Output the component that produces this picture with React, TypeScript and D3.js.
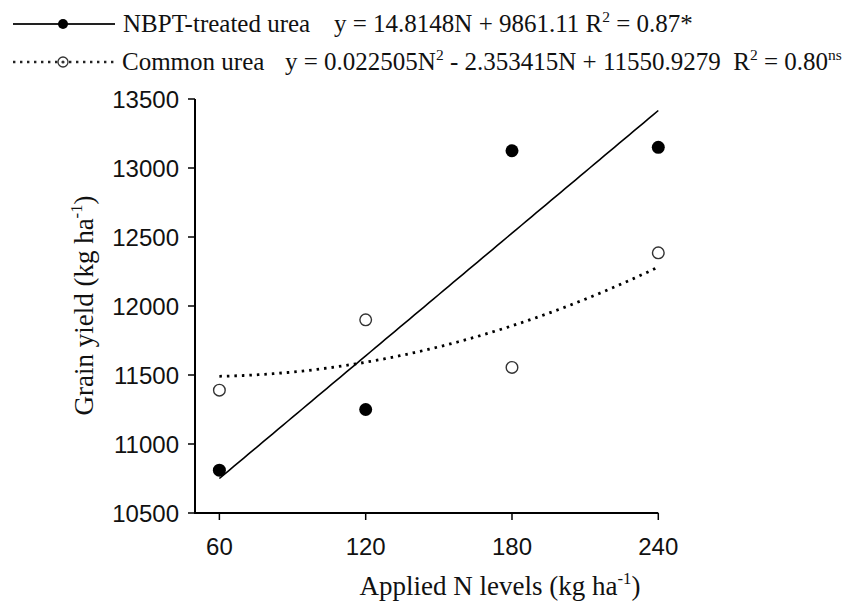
import React from "react";
import * as d3 from "d3";

const nLevels = [60, 120, 180, 240];
const nbptYield = [10810, 11250, 13125, 13150];
const commonYield = [11390, 11900, 11555, 12385];
const yTicks = [10500, 11000, 11500, 12000, 12500, 13000, 13500];
const linearCoef = [14.8148, 9861.11];
const quadCoef = [0.022505, -2.353415, 11550.9279];

const W = 851;
const H = 603;
const serif = "'Liberation Serif', 'Times New Roman', serif";
const sans = "'Liberation Sans', Arial, sans-serif";

type Part = [string, boolean];

function RichText(props: { parts: Part[]; fs: number }) {
  const { parts, fs } = props;
  const shift = fs * 0.4;
  let raised = false;
  return (
    <>
      {parts.map(([t, isSup], i) => {
        let dy = 0;
        if (isSup && !raised) {
          dy = -shift;
          raised = true;
        } else if (!isSup && raised) {
          dy = shift;
          raised = false;
        }
        return (
          <tspan key={i} dy={dy} fontSize={isSup ? fs * 0.62 : fs}>
            {t}
          </tspan>
        );
      })}
    </>
  );
}

const row1Eq: Part[] = [["y = 14.8148N + 9861.11 R", false], ["2", true], [" = 0.87*", false]];
const row2Eq: Part[] = [
  ["y = 0.022505N", false],
  ["2", true],
  [" - 2.353415N + 11550.9279  R", false],
  ["2", true],
  [" = 0.80", false],
  ["ns", true],
];
const xTitle: Part[] = [["Applied N levels (kg ha", false], ["-1", true], [")", false]];
const yTitle: Part[] = [["Grain yield (kg ha", false], ["-1", true], [")", false]];

export default function App() {
  const x = d3.scaleLinear().domain([50, 240]).range([195, 658.3]);
  const y = d3.scaleLinear().domain([10500, 13500]).range([513, 99]);

  const fitN = d3.range(60, 240.01, 2);
  const linePath = d3
    .line<number>()
    .x((n) => x(n))
    .y((n) => y(linearCoef[0] * n + linearCoef[1]))(fitN) as string;
  const quadPath = d3
    .line<number>()
    .x((n) => x(n))
    .y((n) => y(quadCoef[0] * n * n + quadCoef[1] * n + quadCoef[2]))(fitN) as string;

  return (
    <svg
      width={W}
      height={H}
      style={{ position: "absolute", left: 0, top: 0, background: "#fff" }}
    >
      <rect width={W} height={H} fill="#fff" />
      {/* Legend row 1 */}
      <line x1={13} x2={115} y1={24} y2={24} stroke="#222" strokeWidth={2} />
      <circle cx={63} cy={24} r={5} fill="#000" />
      <text x={123} y={32} fontFamily={serif} fontSize={25} fill="#111">
        NBPT-treated urea
      </text>
      <text x={334} y={32} fontFamily={serif} fontSize={25} fill="#111" xmlSpace="preserve">
        <RichText parts={row1Eq} fs={25} />
      </text>
      {/* Legend row 2 */}
      <line x1={13} x2={115} y1={62} y2={62} stroke="#222" strokeWidth={2.4} strokeDasharray="2.4 4.6" />
      <circle cx={63} cy={62} r={5} fill="#fff" stroke="#333" strokeWidth={1.3} />
      <circle cx={63} cy={62} r={1.6} fill="#333" />
      <text x={122} y={70} fontFamily={serif} fontSize={25} fill="#111">
        Common urea
      </text>
      <text x={285} y={70} fontFamily={serif} fontSize={25} fill="#111" xmlSpace="preserve">
        <RichText parts={row2Eq} fs={25} />
      </text>

      {/* Fit lines */}
      <path d={linePath} fill="none" stroke="#000" strokeWidth={1.6} />
      <path d={quadPath} fill="none" stroke="#000" strokeWidth={2.8} strokeDasharray="2.5 5" />

      {/* Points */}
      {nLevels.map((n, i) => (
        <circle key={"c" + i} cx={x(n)} cy={y(commonYield[i])} r={5.8} fill="#fff" stroke="#333" strokeWidth={1.4} />
      ))}
      {nLevels.map((n, i) => (
        <circle key={"b" + i} cx={x(n)} cy={y(nbptYield[i])} r={6.5} fill="#000" />
      ))}

      {/* Axes */}
      <line x1={195} x2={195} y1={y(13500)} y2={y(10500) + 1} stroke="#000" strokeWidth={2} />
      <line x1={194} x2={x(240)} y1={513} y2={513} stroke="#000" strokeWidth={2} />
      {yTicks.map((t) => (
        <g key={"yt" + t}>
          <line x1={188} x2={195} y1={y(t)} y2={y(t)} stroke="#000" strokeWidth={1.5} />
          <text x={179} y={y(t)} dy="0.36em" textAnchor="end" fontFamily={sans} fontSize={24} fill="#111">
            {t}
          </text>
        </g>
      ))}
      {nLevels.map((t) => (
        <g key={"xt" + t}>
          <line x1={x(t)} x2={x(t)} y1={513} y2={520} stroke="#000" strokeWidth={1.5} />
          <text x={x(t)} y={555} textAnchor="middle" fontFamily={sans} fontSize={24} fill="#111">
            {t}
          </text>
        </g>
      ))}

      {/* Axis titles */}
      <text x={500} y={595} textAnchor="middle" fontFamily={serif} fontSize={27} fill="#111">
        <RichText parts={xTitle} fs={27} />
      </text>
      <text
        transform={`translate(93,305.5) rotate(-90)`}
        textAnchor="middle"
        fontFamily={serif}
        fontSize={27}
        fill="#111"
      >
        <RichText parts={yTitle} fs={27} />
      </text>
    </svg>
  );
}
